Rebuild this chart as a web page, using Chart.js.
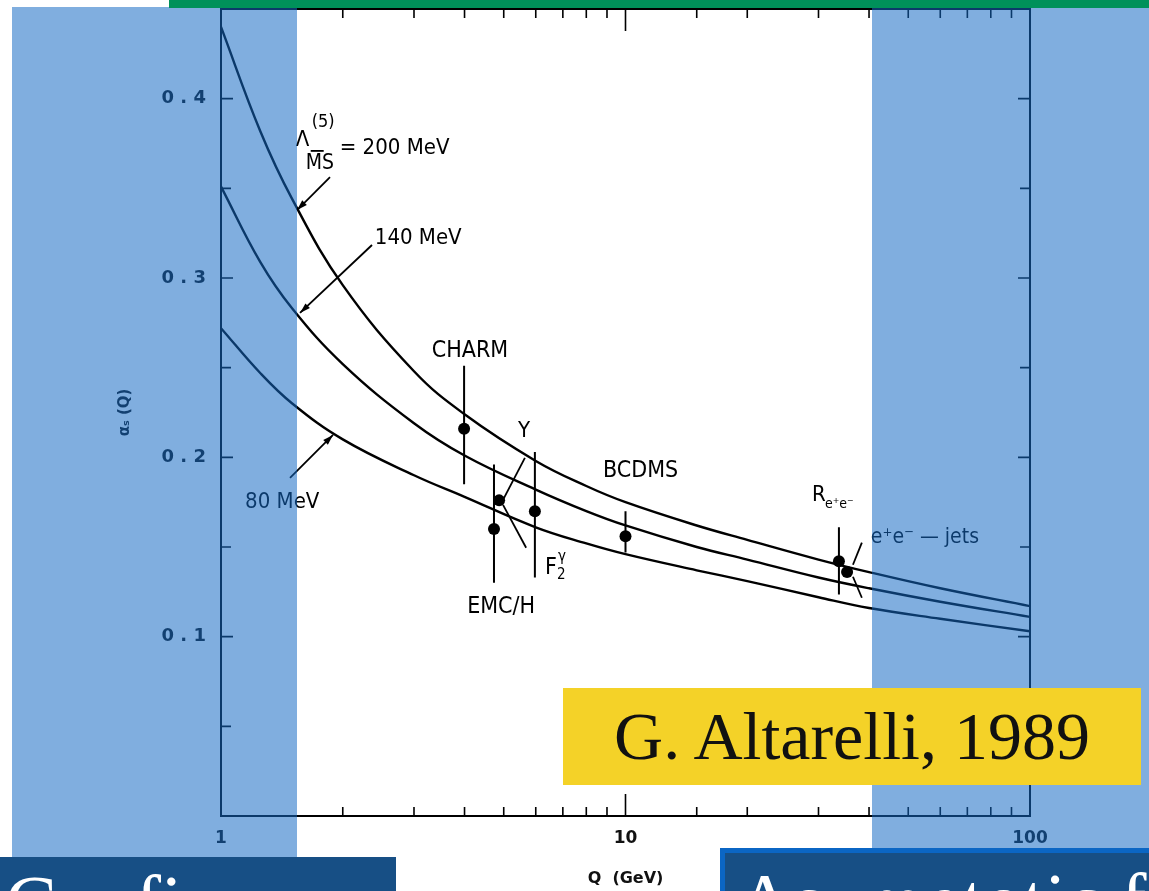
<!DOCTYPE html>
<html>
<head>
<meta charset="utf-8">
<title>alpha_s running</title>
<script src="https://cdn.jsdelivr.net/npm/chart.js@4.4.0/dist/chart.umd.min.js"></script>
<style>
  body { margin: 0; background: #fff; }
  #wrap { position: relative; width: 1149px; height: 891px; overflow: hidden; background: #fff; }
  #chart { position: absolute; left: 0; top: 0; }
  .band { position: absolute; top: 7px; bottom: 0; background: rgba(20, 105, 195, 0.54); pointer-events: none; }
  #topbar { position: absolute; left: 169px; top: 0; width: 980px; height: 8px; background: #00915a; }
  #credit {
    position: absolute; left: 563px; top: 688px; width: 578px; height: 97px;
    background: #f4d228; color: #111; text-align: center;
    font: 68px/97px "Liberation Serif", "Times New Roman", serif;
  }
  .tag {
    position: absolute; bottom: 0; background: #174f85; color: #fff; overflow: hidden;
    font: 78px/78px "Liberation Serif", "Times New Roman", serif; white-space: nowrap;
  }
  #tagLeft { left: 0; top: 857px; width: 396px; padding: 7px 0 0 5px; box-sizing: border-box; }
  #tagRight { left: 720px; top: 848px; width: 429px; padding: 9px 0 0 12px; box-sizing: border-box;
    border-top: 5px solid #0b66c4; border-left: 5px solid #0b66c4; }
</style>
</head>
<body>
<div id="wrap">
  <canvas id="chart" width="1149" height="891"></canvas>
  <div class="band" style="left:12px;width:285px"></div>
  <div class="band" style="left:872px;width:277px"></div>
  <div id="topbar"></div>
  <div id="credit">G. Altarelli, 1989</div>
  <div class="tag" id="tagLeft">Confinement</div>
  <div class="tag" id="tagRight">Asymptotic freedom</div>
</div>
<script>
// QCD coupling alpha_s(Q) for three values of Lambda (MS-bar, 5 flavours)
const Q = [1, 1.25, 1.5, 2, 3, 4, 6, 8, 10, 15, 20, 30, 40, 60, 100];
const alphaL200 = [0.440, 0.382, 0.344, 0.296, 0.248, 0.224, 0.198, 0.184, 0.175, 0.162, 0.154, 0.143, 0.136, 0.127, 0.117];
const alphaL140 = [0.351, 0.309, 0.283, 0.252, 0.219, 0.201, 0.182, 0.170, 0.162, 0.150, 0.143, 0.133, 0.127, 0.1195, 0.111];
const alphaL80  = [0.272, 0.247, 0.230, 0.210, 0.190, 0.178, 0.161, 0.152, 0.146, 0.137, 0.131, 0.122, 0.116, 0.110, 0.103];

// measurements (null = no error bar drawn)
const expNames = ["CHARM", "EMC/H", "Upsilon", "F2 gamma", "BCDMS", "R e+e-", "e+e- jets"];
const expQ     = [3.99, 4.73, 4.87, 5.97, 10.0, 33.7, 35.3];
const expAlpha = [0.216, 0.160, 0.176, 0.170, 0.156, 0.142, 0.136];
const expLo    = [0.185, 0.130, null, 0.133, 0.147, 0.1235, null];
const expHi    = [0.251, 0.196, null, 0.203, 0.170, 0.161, null];

const xMajor = [1, 10, 100];

const LABEL_FONT = '"DejaVu Sans Condensed", "DejaVu Sans", sans-serif';

// text labels, anchored in data space (left edge, vertical middle)
const labels = [
  { text: "140 MeV", q: 2.40, a: 0.3223, size: 22 },
  { text: "80 MeV", q: 1.147, a: 0.1752, size: 22 },
  { text: "CHARM", q: 3.32, a: 0.2593, size: 23 },
  { text: "\u03A5", q: 5.42, a: 0.2148, size: 22 },
  { text: "BCDMS", q: 8.80, a: 0.1925, size: 23 },
  { text: "EMC/H", q: 4.06, a: 0.1167, size: 23 },
  { text: "e\u207Ae\u207B \u2014 jets", q: 40.4, a: 0.155, size: 21 }
];

// pointer lines [q1, a1, q2, a2, arrowhead]
const pointers = [
  [1.86, 0.3563, 1.542, 0.3379, true],
  [2.362, 0.3184, 1.568, 0.2805, true],
  [1.481, 0.1886, 1.892, 0.2125, true],
  [5.64, 0.1997, 4.95, 0.1752, false],
  [4.98, 0.1735, 5.68, 0.1496, false],
  [38.4, 0.1524, 36.5, 0.1401, false],
  [36.5, 0.1334, 38.4, 0.1217, false]
];

const toPts = (ys) => Q.map((q, i) => ({ x: q, y: ys[i] }));

function arrowHead(ctx, x1, y1, x2, y2) {
  const ang = Math.atan2(y2 - y1, x2 - x1);
  const len = 11, w = 0.3;
  ctx.beginPath();
  ctx.moveTo(x2, y2);
  ctx.lineTo(x2 - len * Math.cos(ang - w), y2 - len * Math.sin(ang - w));
  ctx.lineTo(x2 - len * Math.cos(ang + w), y2 - len * Math.sin(ang + w));
  ctx.closePath();
  ctx.fill();
}

const decorations = {
  id: "decorations",
  afterDatasetsDraw(chart) {
    const { ctx, chartArea: area, scales: { x, y } } = chart;
    ctx.save();
    ctx.strokeStyle = "#000";
    ctx.fillStyle = "#000";

    // frame with inward ticks on all four sides
    ctx.lineWidth = 2;
    ctx.strokeRect(area.left, area.top, area.right - area.left, area.bottom - area.top);
    ctx.lineWidth = 1.6;
    ctx.beginPath();
    x.ticks.forEach((t) => {
      const px = x.getPixelForValue(t.value);
      const len = xMajor.includes(t.value) ? 22 : 9;
      ctx.moveTo(px, area.bottom); ctx.lineTo(px, area.bottom - len);
      ctx.moveTo(px, area.top); ctx.lineTo(px, area.top + len);
    });
    y.ticks.forEach((t) => {
      const py = y.getPixelForValue(t.value);
      const len = Math.round(t.value * 100) % 10 === 0 ? 12 : 10;
      ctx.moveTo(area.left, py); ctx.lineTo(area.left + len, py);
      ctx.moveTo(area.right, py); ctx.lineTo(area.right - len, py);
    });
    ctx.stroke();

    // error bars
    ctx.lineWidth = 2;
    ctx.beginPath();
    expQ.forEach((q, i) => {
      if (expLo[i] === null) return;
      const px = x.getPixelForValue(q);
      ctx.moveTo(px, y.getPixelForValue(expLo[i]));
      ctx.lineTo(px, y.getPixelForValue(expHi[i]));
    });
    ctx.stroke();

    // pointer lines
    ctx.lineWidth = 1.8;
    pointers.forEach(([q1, a1, q2, a2, head]) => {
      const x1 = x.getPixelForValue(q1), y1 = y.getPixelForValue(a1);
      const x2 = x.getPixelForValue(q2), y2 = y.getPixelForValue(a2);
      ctx.beginPath();
      ctx.moveTo(x1, y1); ctx.lineTo(x2, y2);
      ctx.stroke();
      if (head) arrowHead(ctx, x1, y1, x2, y2);
    });

    // labels
    ctx.textAlign = "left";
    ctx.textBaseline = "middle";
    labels.forEach((l) => {
      ctx.font = l.size + "px " + LABEL_FONT;
      ctx.fillText(l.text, x.getPixelForValue(l.q), y.getPixelForValue(l.a));
    });

    // Lambda^(5)_MSbar = 200 MeV
    let lx = x.getPixelForValue(1.53), ly = y.getPixelForValue(0.377);
    ctx.font = "22px " + LABEL_FONT;
    ctx.fillText("\u039B", lx, ly);
    ctx.font = "18px " + LABEL_FONT;
    ctx.fillText("(5)", lx + 16, ly - 18);
    ctx.font = "21px " + LABEL_FONT;
    ctx.fillText("MS", lx + 10, ly + 24);
    ctx.font = "22px " + LABEL_FONT;
    ctx.fillText("= 200 MeV", lx + 44, ly + 8);
    ctx.lineWidth = 1.8;
    ctx.beginPath();
    ctx.moveTo(lx + 15, ly + 11); ctx.lineTo(lx + 28, ly + 11);
    ctx.stroke();

    // F2^gamma
    lx = x.getPixelForValue(6.32); ly = y.getPixelForValue(0.1384);
    ctx.font = "23px " + LABEL_FONT;
    ctx.fillText("F", lx, ly);
    ctx.font = "15px " + LABEL_FONT;
    ctx.fillText("2", lx + 12, ly + 7);
    ctx.fillText("\u03B3", lx + 13, ly - 11);

    // R_e+e-
    lx = x.getPixelForValue(28.9); ly = y.getPixelForValue(0.1786);
    ctx.font = "22px " + LABEL_FONT;
    ctx.fillText("R", lx, ly);
    ctx.font = "14px " + LABEL_FONT;
    ctx.fillText("e\u207Ae\u207B", lx + 13, ly + 9);

    ctx.restore();
  }
};

const ctx = document.getElementById("chart").getContext("2d");
new Chart(ctx, {
  type: "scatter",
  data: {
    datasets: [
      { label: "200 MeV", data: toPts(alphaL200), showLine: true },
      { label: "140 MeV", data: toPts(alphaL140), showLine: true },
      { label: "80 MeV", data: toPts(alphaL80), showLine: true },
      {
        label: "data",
        data: expQ.map((q, i) => ({ x: q, y: expAlpha[i] })),
        showLine: false,
        pointRadius: 6,
        pointBackgroundColor: "#000",
        pointBorderWidth: 0
      }
    ]
  },
  options: {
    responsive: false,
    animation: false,
    devicePixelRatio: 1,
    layout: { padding: { left: 108, right: 119, top: 9, bottom: 0 } },
    elements: {
      line: { borderColor: "#000", borderWidth: 2.4, tension: 0.4, fill: false },
      point: { radius: 0 }
    },
    plugins: { legend: { display: false }, tooltip: { enabled: false } },
    scales: {
      x: {
        type: "logarithmic",
        min: 1,
        max: 100,
        grid: { display: false, drawTicks: false },
        border: { display: false },
        afterFit: (scale) => {
          scale.height = 75;
          scale.paddingLeft = 0;
          scale.paddingRight = 0;
        },
        ticks: {
          autoSkip: false,
          maxRotation: 0,
          padding: 12,
          color: "#111",
          font: { family: "DejaVu Sans", size: 17, weight: "bold" },
          callback: (v) => (xMajor.includes(v) ? String(v) : "")
        },
        title: {
          display: true,
          text: "Q  (GeV)",
          color: "#111",
          padding: { top: 0, bottom: 3 },
          font: { family: "DejaVu Sans", size: 16, weight: "bold" }
        }
      },
      y: {
        min: 0,
        max: 0.45,
        grid: { display: false, drawTicks: false },
        border: { display: false },
        afterFit: (scale) => {
          scale.width = 113;
          scale.paddingTop = 0;
          scale.paddingBottom = 0;
        },
        ticks: {
          stepSize: 0.05,
          padding: 15,
          color: "#111",
          font: { family: "DejaVu Sans", size: 18, weight: "bold" },
          callback: (v) => {
            const c = Math.round(v * 100);
            if (c === 0 || c % 10 !== 0) return "";
            return (c / 100).toFixed(1).split("").join(" ");
          }
        },
        title: {
          display: true,
          text: "\u03B1\u209B (Q)",
          color: "#111",
          padding: { top: 8, bottom: 0 },
          font: { family: "DejaVu Sans", size: 15, weight: "bold" }
        }
      }
    }
  },
  plugins: [decorations]
});
</script>
</body>
</html>
